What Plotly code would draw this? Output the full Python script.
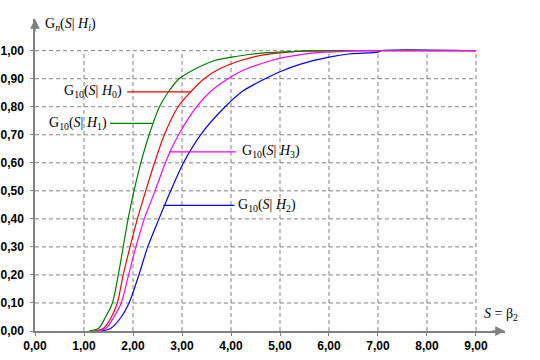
import plotly.graph_objects as go

# ---- data ----
S_H1 = [1.10, 1.30, 1.44, 1.58, 1.70, 1.80, 1.90, 2.02, 2.16, 2.33, 2.54, 2.71, 2.94, 3.24, 3.65, 4.13, 4.67, 5.30, 6.20, 9.00]
G_H1 = [0.0, 0.01, 0.05, 0.10, 0.20, 0.30, 0.40, 0.50, 0.60, 0.70, 0.80, 0.85, 0.90, 0.932, 0.964, 0.98, 0.992, 0.997, 1.0, 1.0]

S_H0 = [1.20, 1.40, 1.56, 1.68, 1.80, 1.94, 2.09, 2.26, 2.44, 2.64, 2.92, 3.16, 3.45, 3.73, 4.20, 4.70, 5.15, 5.52, 6.00, 9.00]
G_H0 = [0.0, 0.01, 0.05, 0.10, 0.20, 0.30, 0.40, 0.50, 0.60, 0.70, 0.80, 0.85, 0.90, 0.932, 0.965, 0.986, 0.995, 0.999, 1.0, 1.0]

S_H3 = [1.25, 1.45, 1.61, 1.76, 1.91, 2.06, 2.23, 2.45, 2.66, 2.75, 2.93, 3.30, 3.60, 3.94, 4.27, 4.81, 5.08, 5.42, 5.77, 6.30, 6.60, 9.00]
G_H3 = [0.0, 0.01, 0.05, 0.10, 0.20, 0.30, 0.40, 0.50, 0.60, 0.637, 0.70, 0.80, 0.857, 0.90, 0.932, 0.964, 0.976, 0.986, 0.993, 0.998, 1.0, 1.0]

S_H2 = [1.35, 1.55, 1.76, 1.92, 2.12, 2.30, 2.53, 2.77, 3.03, 3.38, 3.88, 4.25, 4.70, 5.00, 5.42, 6.00, 6.44, 7.00, 7.05, 9.00]
G_H2 = [0.0, 0.01, 0.05, 0.10, 0.20, 0.30, 0.40, 0.50, 0.60, 0.70, 0.80, 0.857, 0.90, 0.925, 0.952, 0.977, 0.989, 0.995, 1.0, 1.0]

x_ticks = [0, 1, 2, 3, 4, 5, 6, 7, 8, 9]
y_ticks = [0.0, 0.1, 0.2, 0.3, 0.4, 0.5, 0.6, 0.7, 0.8, 0.9, 1.0]

GREEN, RED, MAGENTA, BLUE = "#008000", "#FF0000", "#FF00FF", "#0000FF"
GRID = "#808080"

# curve labels: (text, y of leader, leader x-start, leader x-end, text x, anchor, colour)
labels = [
    ("G<sub>10</sub>(<i>S</i>| <i>H</i><sub>0</sub>)", 0.853, 1.88, 3.17, 1.82, "right", RED),
    ("G<sub>10</sub>(<i>S</i>| <i>H</i><sub>1</sub>)", 0.741, 1.53, 2.40, 1.50, "right", GREEN),
    ("G<sub>10</sub>(<i>S</i>| <i>H</i><sub>3</sub>)", 0.639, 2.74, 4.10, 4.18, "left", MAGENTA),
    ("G<sub>10</sub>(<i>S</i>| <i>H</i><sub>2</sub>)", 0.448, 2.62, 4.07, 4.11, "left", BLUE),
]

series = [
    (S_H2, G_H2, BLUE, "H2"),
    (S_H0, G_H0, RED, "H0"),
    (S_H1, G_H1, GREEN, "H1"),
    (S_H3, G_H3, MAGENTA, "H3"),
]

fig = go.Figure()
for s, g, c, n in series:
    fig.add_trace(go.Scatter(x=s, y=g, mode="lines", name=n, hoverinfo="skip",
                             line=dict(color=c, width=1.2, shape="spline", smoothing=0.8),
                             cliponaxis=False))

shapes = []
for yv in y_ticks[1:]:
    shapes.append(dict(type="line", xref="x", yref="y", x0=0, x1=x_ticks[-1], y0=yv, y1=yv,
                       line=dict(color=GRID, width=1, dash="4px,3px"), layer="below"))
for xv in x_ticks[1:]:
    shapes.append(dict(type="line", xref="x", yref="y", x0=xv, x1=xv, y0=0, y1=y_ticks[-1],
                       line=dict(color=GRID, width=1, dash="4px,3px"), layer="below"))

annotations = []
for text, yv, xs, xe, xt, anc, col in labels:
    shapes.append(dict(type="line", xref="x", yref="y", x0=xs, x1=xe, y0=yv, y1=yv,
                       line=dict(color=col, width=1.2)))
    annotations.append(dict(x=xt, y=yv, xref="x", yref="y", text=text, showarrow=False,
                            xanchor=anc, yanchor="middle",
                            font=dict(family="Liberation Serif", size=14, color="black")))

# axis arrowheads
annotations.append(dict(x=1, xref="paper", y=0, yref="y", ax=-14, ay=0, text="",
                        showarrow=True, arrowhead=2, arrowsize=1.3, arrowwidth=1.5,
                        arrowcolor=GRID, standoff=0))
annotations.append(dict(x=0, xref="x", y=1, yref="paper", ax=0, ay=14, text="",
                        showarrow=True, arrowhead=2, arrowsize=1.3, arrowwidth=1.5,
                        arrowcolor=GRID, standoff=0))

annotations.append(dict(x=0.16, y=1.095, xref="x", yref="y",
                        text="G<sub><i>n</i></sub>(<i>S</i>| <i>H</i><sub><i>i</i></sub>)",
                        showarrow=False, xanchor="left", yanchor="middle",
                        font=dict(family="Liberation Serif", size=14, color="black")))
annotations.append(dict(x=9.12, y=0.06, xref="x", yref="y",
                        text="<i>S</i> = β<sub>2</sub>",
                        showarrow=False, xanchor="left", yanchor="middle",
                        font=dict(family="Liberation Serif", size=14, color="black")))

tickfont = dict(family="Liberation Sans", size=12, color="black", weight="bold")

fig.update_layout(
    width=540, height=360,
    margin=dict(l=35, r=35, t=19, b=29, pad=0, autoexpand=False),
    paper_bgcolor="white", plot_bgcolor="white",
    showlegend=False,
    hovermode=False,
    separators=",.",
    shapes=shapes,
    annotations=annotations,
    xaxis=dict(range=[0, 9.592], tickvals=x_ticks, tickformat=".2f", showgrid=False,
               zeroline=False, showline=True, linecolor=GRID, linewidth=1.5,
               ticks="outside", ticklen=3, tickcolor=GRID, tickfont=tickfont,
               ticklabelstandoff=0, automargin=False),
    yaxis=dict(range=[0, 1.113], tickvals=y_ticks, tickformat=".2f", showgrid=False,
               zeroline=False, showline=True, linecolor=GRID, linewidth=1.5,
               ticks="outside", ticklen=3, tickcolor=GRID, tickfont=tickfont,
               ticklabelstandoff=4, automargin=False),
)

fig.write_html("out.html", config={"displayModeBar": False},
               post_script="document.body.style.margin='0px';")
